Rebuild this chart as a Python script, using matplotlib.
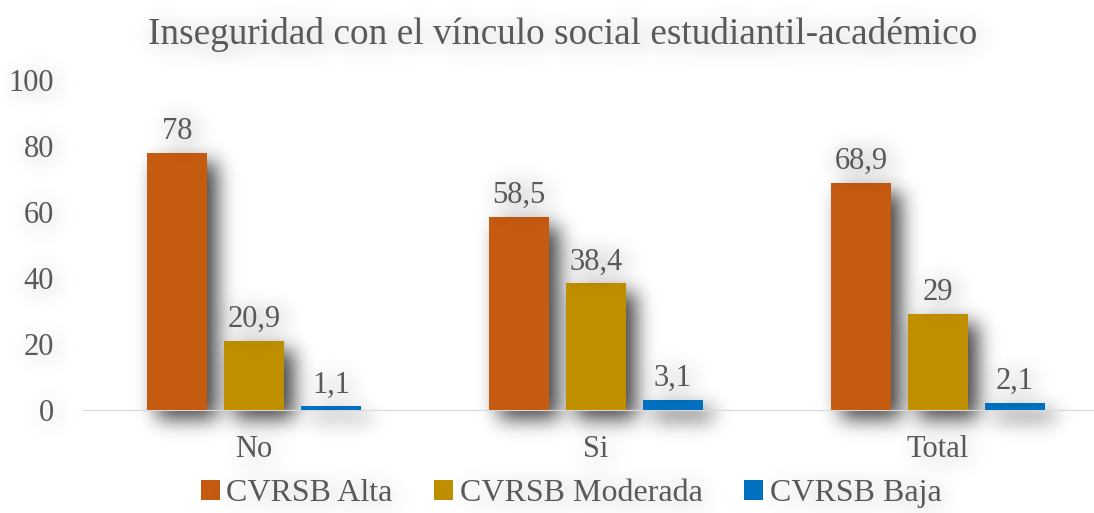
import numpy as np
import matplotlib
matplotlib.use("Agg")
import matplotlib.pyplot as plt
from matplotlib.patches import Patch

categories = ["No", "Si", "Total"]
series_names = ["CVRSB Alta", "CVRSB Moderada", "CVRSB Baja"]
alta = [78, 58.5, 68.9]
moderada = [20.9, 38.4, 29]
baja = [1.1, 3.1, 2.1]
labels_alta = ["78", "58,5", "68,9"]
labels_moderada = ["20,9", "38,4", "29"]
labels_baja = ["1,1", "3,1", "2,1"]
colors = ["#C55A11", "#BF8F00", "#0070C0"]
text_color = "#595959"

plt.rcParams['font.family'] = 'serif'
plt.rcParams['font.serif'] = ['Liberation Serif', 'DejaVu Serif']
fam = ['Liberation Serif', 'DejaVu Serif']


class Shadow:
    # blurred, offset shadow of what the artist draws; keep=True draws the artist on top
    def __init__(self, sigma, alpha, ox, oy, keep=False):
        self.sigma = sigma
        self.alpha = alpha
        self.ox = ox
        self.oy = oy
        self.keep = keep

    def __call__(self, im, dpi):
        s = self.sigma
        pad = int(3 * s + max(abs(self.ox), abs(self.oy))) + 2
        src = np.pad(im, [(pad, pad), (pad, pad), (0, 0)])
        a = src[..., 3]
        r = int(3 * s)
        k = np.exp(-0.5 * (np.arange(-r, r + 1) / s) ** 2)
        k /= k.sum()
        b = np.zeros_like(a)
        for i, w in enumerate(k):
            b += w * np.roll(a, i - r, axis=1)
        c = np.zeros_like(b)
        for i, w in enumerate(k):
            c += w * np.roll(b, i - r, axis=0)
        c = np.roll(c, int(self.ox), axis=1)
        c = np.roll(c, int(self.oy), axis=0)
        sh = np.clip(c * self.alpha, 0, 1)
        out = np.zeros(src.shape)
        if not self.keep:
            out[..., 3] = sh
            return out, -pad, -pad
        sa = a
        oa = sa + sh * (1 - sa)
        for ch in range(3):
            out[..., ch] = src[..., ch] * sa / np.maximum(oa, 1e-6)
        out[..., 3] = oa
        return out, -pad, -pad


fig = plt.figure(figsize=(10.94, 5.13), dpi=100)
ax = fig.add_axes([83 / 1094, 103 / 513, 1026 / 1094, 330 / 513])

x = np.arange(len(categories))
width = 0.175
step = 0.225
bar_shadow = Shadow(10, 0.75, 10, 9)
text_shadow = Shadow(12, 0.3, 3, 3, keep=True)

all_series = [alta, moderada, baja]
all_labels = [labels_alta, labels_moderada, labels_baja]
for i, (vals, labs) in enumerate(zip(all_series, all_labels)):
    pos = x + (i - 1) * step
    sh = ax.bar(pos, vals, width, color="k", zorder=1, clip_on=False)
    for p in sh:
        p.set_agg_filter(bar_shadow)
    ax.bar(pos, vals, width, color=colors[i], zorder=3, clip_on=False)
    for px, v, lab in zip(pos, vals, labs):
        t = ax.annotate(lab, (px, v), xytext=(0, 5), textcoords="offset points",
                        ha="center", va="bottom", fontsize=22, color=text_color,
                        zorder=4, family=fam)
        t.set_agg_filter(text_shadow)

ax.set_xlim(-0.5, 2.5)
ax.set_ylim(0, 100)
ax.set_yticks([0, 20, 40, 60, 80, 100])
ax.set_xticks(x)
ax.set_xticklabels(categories)
for sp in ["top", "right", "left"]:
    ax.spines[sp].set_visible(False)
ax.spines["bottom"].set_color("#D9D9D9")
ax.spines["bottom"].set_zorder(2.5)
ax.tick_params(axis="both", length=0, labelsize=22, colors=text_color)
ax.tick_params(axis="y", pad=21)
ax.tick_params(axis="x", pad=18)
for t in ax.get_xticklabels() + ax.get_yticklabels():
    t.set_family(fam)
    t.set_agg_filter(text_shadow)
ax.patch.set_alpha(0)

title = fig.text(0.514, 0.932, "Inseguridad con el vínculo social estudiantil-académico",
                 ha="center", va="center", fontsize=26.8, family=fam, color=text_color)
title.set_agg_filter(text_shadow)

handles = [Patch(facecolor=c, label=n) for c, n in zip(colors, series_names)]
leg = fig.legend(handles=handles, loc="center", bbox_to_anchor=(0.522, 0.038), ncol=3,
                 frameon=False, prop={"family": fam, "size": 23}, labelcolor=text_color,
                 handlelength=0.6, handleheight=0.6, handletextpad=0.2, columnspacing=1.3)
for t in leg.get_texts():
    t.set_agg_filter(text_shadow)

fig.savefig("out.png", dpi=100)
